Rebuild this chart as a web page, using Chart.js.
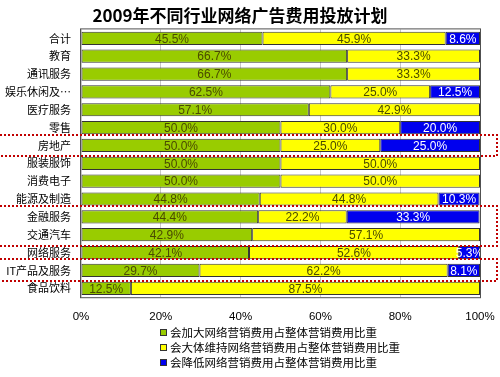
<!DOCTYPE html>
<html>
<head>
<meta charset="utf-8">
<script src="https://cdn.jsdelivr.net/npm/chart.js@4/dist/chart.umd.min.js"></script>
<style>
  html, body { margin: 0; padding: 0; background: #fff; }
  #wrap { position: relative; width: 500px; height: 377px; }
  #legend { position: absolute; left: 160px; top: 325px; font: 11.5px "Noto Sans CJK SC", sans-serif; color: #000; }
  #legend div { height: 15px; line-height: 15px; white-space: nowrap; }
  #legend span.box { display: inline-block; width: 5px; height: 5px; border: 1px solid #333; margin-right: 3px; vertical-align: 1px; }
</style>
</head>
<body>
<div id="wrap">
  <canvas id="chart" width="500" height="377"></canvas>
  <div id="legend"></div>
</div>
<script>
// 2009 plans for online ad spend, by industry (100% stacked)
const categories = ['合计', '教育', '通讯服务', '娱乐休闲及…', '医疗服务', '零售', '房地产', '服装服饰',
    '消费电子', '能源及制造', '金融服务', '交通汽车', '网络服务', 'IT产品及服务', '食品饮料'];
const increaseShare = [45.5, 66.7, 66.7, 62.5, 57.1, 50.0, 50.0, 50.0, 50.0, 44.8, 44.4, 42.9, 42.1, 29.7, 12.5];
const keepShare     = [45.9, 33.3, 33.3, 25.0, 42.9, 30.0, 25.0, 50.0, 50.0, 44.8, 22.2, 57.1, 52.6, 62.2, 87.5];
const reduceShare   = [8.6, 0, 0, 12.5, 0, 20.0, 25.0, 0, 0, 10.3, 33.3, 0, 5.3, 8.1, 0];
const seriesNames = ['会加大网络营销费用占整体营销费用比重', '会大体维持网络营销费用占整体营销费用比重', '会降低网络营销费用占整体营销费用比重'];
const xTicks = [0, 20, 40, 60, 80, 100];
// highlighted rows (first..last index) from the original annotation
const highlightGroups = [[6, 6], [10, 11], [13, 13]];

const barLabels = {
    id: 'barLabels',
    afterDatasetsDraw(chart) {
        const ctx = chart.ctx;
        ctx.save();
        ctx.font = '12px "Liberation Sans", sans-serif';
        ctx.textAlign = 'center';
        ctx.textBaseline = 'middle';
        chart.data.datasets.forEach((ds, di) => {
            const meta = chart.getDatasetMeta(di);
            meta.data.forEach((bar, i) => {
                const v = ds.data[i];
                if (!v) return;
                ctx.fillStyle = di === 2 ? '#ffffff' : '#4a4a00';
                ctx.fillText(v.toFixed(1) + '%', (bar.x + bar.base) / 2, bar.y + 1);
            });
        });
        ctx.restore();
    }
};

const frameAndMarks = {
    id: 'frameAndMarks',
    afterDraw(chart) {
        const ctx = chart.ctx;
        const a = chart.chartArea;
        const y = chart.scales.y;
        ctx.save();
        ctx.strokeStyle = '#505050';
        ctx.lineWidth = 1;
        ctx.strokeRect(a.left - 0.5, a.top - 0.5, a.right - a.left + 1, a.bottom - a.top + 1);

        const step = (y.getPixelForValue(1) - y.getPixelForValue(0));
        ctx.strokeStyle = '#c00000';
        ctx.lineWidth = 2;
        ctx.setLineDash([2, 2]);
        highlightGroups.forEach(([first, last]) => {
            const top = Math.round(y.getPixelForValue(first) - step / 2 - 2);
            const bottom = Math.round(y.getPixelForValue(last) + step / 2 + 2);
            ctx.beginPath();
            ctx.moveTo(0, top);
            ctx.lineTo(497, top);
            ctx.lineTo(497, bottom);
            ctx.lineTo(0, bottom);
            ctx.stroke();
        });
        ctx.restore();
    }
};

const colors = ['#99cc00', '#ffff00', '#0000ee'];
const chart = new Chart(document.getElementById('chart'), {
    type: 'bar',
    data: {
        labels: categories,
        datasets: [increaseShare, keepShare, reduceShare].map((d, i) => ({
            label: seriesNames[i],
            data: d,
            backgroundColor: colors[i],
            borderColor: '#333333',
            borderWidth: 1,
            borderSkipped: false,
            barPercentage: 0.74,
            categoryPercentage: 1,
        })),
    },
    options: {
        indexAxis: 'y',
        responsive: false,
        animation: false,
        layout: { padding: { left: 0, right: 20, top: 0, bottom: 40 } },
        plugins: {
            legend: { display: false },
            tooltip: { enabled: false },
            title: {
                display: true,
                text: '2009年不同行业网络广告费用投放计划',
                color: '#000',
                font: { family: '"Noto Sans CJK SC"', size: 17, weight: 'bold' },
                padding: { top: 5, bottom: 4 },
            },
        },
        scales: {
            x: {
                stacked: true,
                min: 0,
                max: 100,
                afterBuildTicks: axis => { axis.ticks = xTicks.map(v => ({ value: v })); },
                afterFit: axis => { axis.paddingRight = 0; },
                ticks: {
                    color: '#000',
                    padding: 13,
                    font: { family: '"Liberation Sans"', size: 11.5 },
                    callback: v => v + '%',
                },
                grid: { color: '#c8c8c8', drawTicks: false },
                border: { display: false },
            },
            y: {
                stacked: true,
                afterFit: axis => { axis.width = 81; },
                ticks: {
                    color: '#000',
                    padding: 10,
                    autoSkip: false,
                    font: { family: '"Noto Sans CJK SC"', size: 11 },
                },
                grid: { display: false, drawTicks: false },
                border: { display: false },
            },
        },
    },
    plugins: [barLabels, frameAndMarks],
});

// HTML legend, one entry per row, built from the chart's own legend items
const legendEl = document.getElementById('legend');
chart.options.plugins.legend.labels.generateLabels(chart).forEach(item => {
    const row = document.createElement('div');
    const box = document.createElement('span');
    box.className = 'box';
    box.style.background = item.fillStyle;
    row.appendChild(box);
    row.appendChild(document.createTextNode(item.text));
    legendEl.appendChild(row);
});
</script>
</body>
</html>
